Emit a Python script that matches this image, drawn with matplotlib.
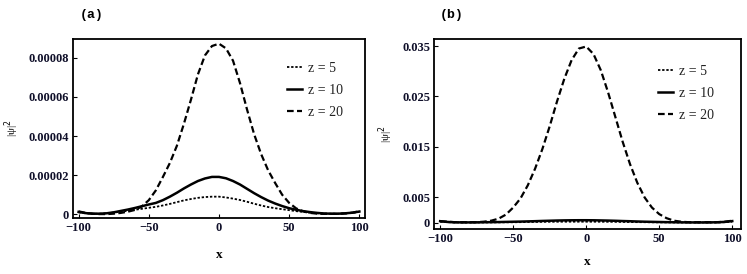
import matplotlib
matplotlib.use("Agg")
import matplotlib.pyplot as plt

# posiciones x comunes
x = [-100, -95, -90, -85, -80, -75, -70, -65, -60, -55, -50, -45, -40, -35, -30,
     -25, -20, -15, -10, -5, 0, 5, 10, 15, 20, 25, 30, 35, 40, 45, 50, 55, 60,
     65, 70, 75, 80, 85, 90, 95, 100]

# panel (a), valores en unidades de 1e-5
a_z5 = [0.10, 0.05, 0.03, 0.03, 0.05, 0.09, 0.13, 0.18, 0.23, 0.28, 0.33, 0.38,
        0.45, 0.53, 0.62, 0.71, 0.78, 0.84, 0.88, 0.90, 0.90, 0.86, 0.80, 0.73,
        0.64, 0.54, 0.45, 0.37, 0.31, 0.26, 0.21, 0.16, 0.12, 0.08, 0.05, 0.03,
        0.03, 0.03, 0.05, 0.08, 0.12]
a_z10 = [0.12, 0.06, 0.03, 0.03, 0.05, 0.10, 0.17, 0.24, 0.32, 0.41, 0.50, 0.58,
         0.72, 0.90, 1.10, 1.32, 1.52, 1.70, 1.83, 1.91, 1.91, 1.84, 1.70, 1.52,
         1.30, 1.08, 0.88, 0.70, 0.55, 0.42, 0.31, 0.23, 0.16, 0.11, 0.07, 0.04,
         0.03, 0.03, 0.05, 0.08, 0.14]
a_z20 = [0.15, 0.07, 0.03, 0.01, 0.01, 0.03, 0.07, 0.13, 0.22, 0.40, 0.72, 1.22,
         1.90, 2.62, 3.50, 4.62, 5.85, 7.15, 8.12, 8.60, 8.72, 8.48, 7.85, 6.70,
         5.35, 4.10, 3.08, 2.25, 1.60, 1.00, 0.58, 0.30, 0.15, 0.07, 0.03, 0.02,
         0.02, 0.02, 0.04, 0.08, 0.16]

# panel (b), valores en unidades de 1e-4
b_z5 = [2.0, 1.0, 0.5, 0.4, 0.4, 0.4, 0.5, 0.6, 0.7, 0.8, 0.9, 1.1, 1.3, 1.5,
        1.7, 1.8, 1.9, 2.0, 2.0, 2.0, 2.0, 2.0, 1.9, 1.8, 1.7, 1.5, 1.3, 1.1,
        1.0, 0.8, 0.7, 0.6, 0.5, 0.4, 0.4, 0.4, 0.4, 0.4, 0.5, 1.0, 2.0]
b_z10 = [3.0, 1.5, 0.8, 0.6, 0.6, 0.7, 0.9, 1.1, 1.3, 1.6, 1.9, 2.2, 2.6, 3.0,
         3.5, 3.9, 4.3, 4.6, 4.8, 4.9, 4.9, 4.8, 4.5, 4.2, 3.8, 3.3, 2.9, 2.4,
         2.0, 1.7, 1.4, 1.1, 0.9, 0.7, 0.6, 0.5, 0.5, 0.6, 0.9, 1.6, 3.2]
b_z20 = [3, 2, 1, 1, 1, 1, 2, 4, 8, 16, 30, 48, 74, 107, 146, 191, 240, 285,
         322, 345, 349, 334, 302, 258, 209, 160, 116, 79, 50, 30, 17, 9, 4, 2,
         1, 1, 1, 1, 1, 2, 4]

yticks_a = [0, 0.00002, 0.00004, 0.00006, 0.00008]
ytick_labels_a = ["0", "0.00002", "0.00004", "0.00006", "0.00008"]
yticks_b = [0, 0.005, 0.015, 0.025, 0.035]
ytick_labels_b = ["0", "0.005", "0.015", "0.025", "0.035"]
xticks = [-100, -50, 0, 50, 100]

serif = "Liberation Serif"

fig = plt.figure(figsize=(7.47, 2.74), dpi=100)
ax1 = fig.add_axes([0.0977, 0.2044, 0.3909, 0.6533])
ax2 = fig.add_axes([0.5814, 0.1642, 0.4106, 0.6935])


def estilo(ax, yt, ytl, xlim, ylim, xpad, ypad):
    ax.set_xlim(*xlim)
    ax.set_ylim(*ylim)
    ax.set_xticks(xticks)
    ax.set_xticklabels(["\u2212100", "\u221250", "0", "50", "100"])
    ax.set_yticks(yt)
    ax.set_yticklabels(ytl)
    for lab in ax.get_xticklabels() + ax.get_yticklabels():
        lab.set_fontfamily(serif)
        lab.set_fontweight("bold")
        lab.set_fontsize(9)
        lab.set_color("#10102a")
    ax.tick_params(direction="in", length=3, width=0.8, pad=3,
                   top=False, right=False)
    for s in ax.spines.values():
        s.set_linewidth(1.3)
    ax.set_xlabel("x", fontfamily=serif, fontweight="bold", fontsize=9.5,
                  labelpad=xpad)
    ax.set_ylabel("|\u03c8|$^2$", fontfamily=serif, fontsize=8,
                  labelpad=ypad)


esc_a = 1e-5
ax1.plot(x, [v * esc_a for v in a_z5], color="black", lw=1.3,
         dashes=(1.3, 1.0), label="z = 5")
ax1.plot(x, [v * esc_a for v in a_z10], color="black", lw=1.8, label="z = 10")
ax1.plot(x, [v * esc_a for v in a_z20], color="black", lw=1.6,
         dashes=(3.0, 1.5), label="z = 20")
estilo(ax1, yticks_a, ytick_labels_a, (-104, 104), (-0.0000019, 0.0000896),
       11, 5)

esc_b = 1e-4
ax2.plot(x, [v * esc_b for v in b_z5], color="black", lw=1.3,
         dashes=(1.3, 1.0), label="z = 5")
ax2.plot(x, [v * esc_b for v in b_z10], color="black", lw=1.8, label="z = 10")
ax2.plot(x, [v * esc_b for v in b_z20], color="black", lw=1.6,
         dashes=(3.0, 1.5), label="z = 20")
estilo(ax2, yticks_b, ytick_labels_b, (-104, 106), (-0.00125, 0.03639), 8, 5)

for ax, bx, by in ((ax1, 0.733, 0.872), (ax2, 0.729, 0.863)):
    ax.legend(loc="upper left", bbox_to_anchor=(bx, by), frameon=False,
              prop={"family": serif, "size": 10}, handlelength=1.1,
              handletextpad=0.4, labelspacing=0.64, borderpad=0,
              borderaxespad=0, labelcolor="#222222")

fig.text(0.107, 0.947, "(a)", fontfamily="Liberation Mono", fontweight="bold",
         fontsize=9.5, va="center")
fig.text(0.589, 0.947, "(b)", fontfamily="Liberation Mono", fontweight="bold",
         fontsize=9.5, va="center")

fig.savefig("out.png", dpi=100)
